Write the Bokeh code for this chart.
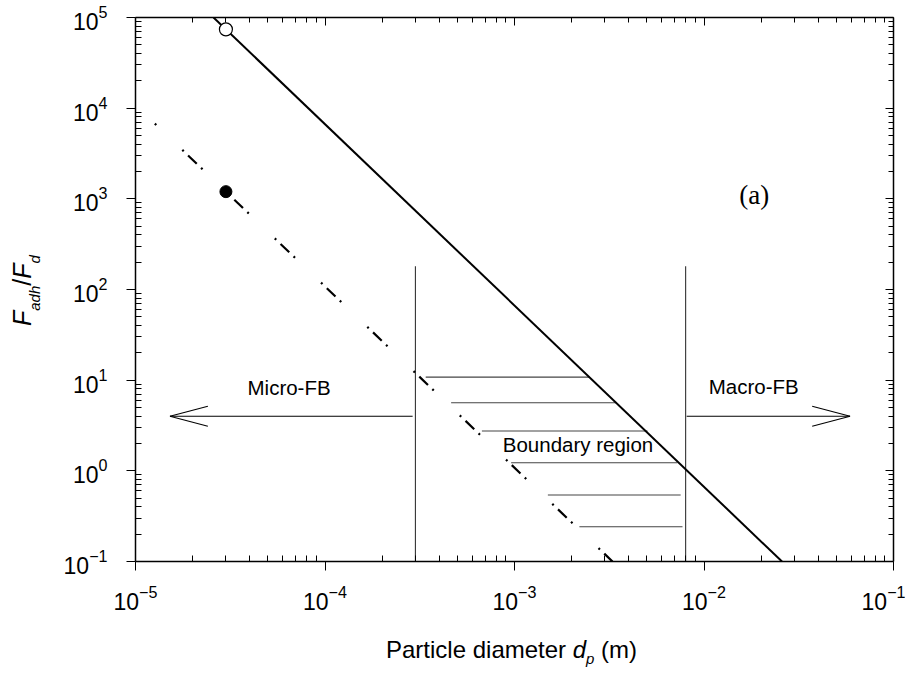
from bokeh.plotting import figure
from bokeh.models import LogAxis, FixedTicker, Range1d, CustomJSTickFormatter, Div
from bokeh.layouts import row, column
from bokeh.core.properties import value
from bokeh.embed import file_html
from bokeh.resources import INLINE

# ---------------- data ----------------
x_ticks = [1e-5, 1e-4, 1e-3, 1e-2, 1e-1]
y_ticks = [1e-1, 1e0, 1e1, 1e2, 1e3, 1e4, 1e5]

# solid line (slope -2 on log-log)
solid_d = [2.58e-5, 2.58e-2]
solid_F = [1.0e5, 1.0e-1]

# dash-dot line (slope -2 on log-log)
dash_d = [1.2e-5, 3.29e-3]
dash_F = [7.5e3, 1.0e-1]

# points
open_pt_d = [3.0e-5]
open_pt_F = [7.4e4]
filled_pt_d = [3.0e-5]
filled_pt_F = [1.2e3]

# vertical region boundaries
bound_d = [3.0e-4, 8.0e-3]
bound_F_low = [1.0e-1, 1.0e-1]
bound_F_high = [180.0, 180.0]

# horizontal lines of the boundary region
hatch_F = [10.8, 5.64, 2.75, 1.23, 0.541, 0.242]
hatch_d0 = [3.4e-4, 4.63e-4, 6.73e-4, 9.6e-4, 1.5e-3, 2.2e-3]
hatch_d1 = [2.48e-3, 3.43e-3, 5.03e-3, 7.24e-3, 7.53e-3, 7.7e-3]

# arrows (tail, tip) at F = arrow_F
arrow_F = 4.0
arrow_tail = [2.9e-4, 8.1e-3]
arrow_tip = [1.52e-5, 5.9e-2]

# annotation texts
note_text = ["Micro-FB", "Macro-FB", "Boundary region"]
note_d = [3.9e-5, 1.06e-2, 8.67e-4]
note_F = [8.2, 8.45, 1.93]
panel_text = ["(a)"]
panel_d = [1.84e-2]
panel_F = [1.1e3]

x_title_html = ('Particle diameter <i>d</i>'
                '<span style="font-size:15px;font-style:italic;vertical-align:-6px">p</span> (m)')
y_title_html = ('<i>F</i><span style="font-size:15px;font-style:italic;vertical-align:-9px">adh</span>'
                '/<i>F</i><span style="font-size:15px;font-style:italic;vertical-align:-9px">d</span>')

FONT = "Liberation Sans"
SERIF = "Liberation Serif"

YDIV_W = 60
P_BOTTOM = 60
p = figure(x_axis_type="log", y_axis_type="log",
           x_range=Range1d(x_ticks[0], x_ticks[-1]),
           y_range=Range1d(y_ticks[0], y_ticks[-1]),
           frame_width=758, frame_height=544,
           min_border_left=133 - YDIV_W, min_border_right=12,
           min_border_top=17, min_border_bottom=P_BOTTOM,
           output_backend="svg", toolbar_location=None,
           background_fill_color="white", border_fill_color="white")
p.grid.visible = False
p.outline_line_color = None

def minors(ticks):
    return [m * t for t in ticks[:-1] for m in range(2, 10)]

xt = FixedTicker(ticks=x_ticks, minor_ticks=minors(x_ticks))
yt = FixedTicker(ticks=y_ticks, minor_ticks=minors(y_ticks))

blank = CustomJSTickFormatter(code="return ' '")
top_ax = LogAxis(ticker=xt, formatter=blank)
right_ax = LogAxis(ticker=yt, formatter=blank)
p.add_layout(top_ax, "above")
p.add_layout(right_ax, "right")
bottom_ax = p.below[0]
left_ax = p.left[0]
bottom_ax.ticker = xt
left_ax.ticker = yt

def style(ax, labels, major_in, major_out, minor_in, standoff=10):
    ax.axis_label = None
    ax.axis_line_color = "black"
    ax.axis_line_width = 1.5
    ax.major_tick_line_color = "black"
    ax.minor_tick_line_color = "black"
    ax.major_tick_line_width = 1
    ax.minor_tick_line_width = 1
    ax.major_tick_in = major_in
    ax.major_tick_out = major_out
    ax.minor_tick_in = minor_in
    ax.minor_tick_out = 0
    if labels:
        ax.major_label_text_font = FONT
        ax.major_label_text_font_size = "23px"
        ax.major_label_text_color = "black"
        ax.major_label_standoff = standoff
    else:
        ax.major_label_text_font_size = "1px"
        ax.major_label_standoff = 0

style(bottom_ax, True, 0, 9, 6, standoff=14)
style(left_ax, True, 0, 9, 6, standoff=19)
style(top_ax, False, 8, 0, 5)
style(right_ax, False, 8, 0, 5)

# ---------------- marks ----------------
p.segment(x0=bound_d, y0=bound_F_low, x1=bound_d, y1=bound_F_high,
          line_color="#333333", line_width=1.1)
p.segment(x0=hatch_d0, y0=hatch_F, x1=hatch_d1, y1=hatch_F,
          line_color="#444444", line_width=1.1)

p.line(solid_d, solid_F, line_color="black", line_width=2)
p.line(dash_d, dash_F, line_color="black", line_width=2.2,
       line_dash="2 6 12 6 2 36", line_dash_offset=20)

p.scatter(open_pt_d, open_pt_F, marker="circle", size=13,
          fill_color="white", line_color="black", line_width=1.2)
p.scatter(filled_pt_d, filled_pt_F, marker="circle", size=12,
          fill_color="black", line_color="black")

# arrows with open heads (head: 0.2 decade long, 0.11 decade half-width)
head_len = 0.2
head_half = 0.11
p.segment(x0=arrow_tail, y0=[arrow_F] * 2, x1=arrow_tip, y1=[arrow_F] * 2,
          line_color="black", line_width=1.1)
hx0, hy0, hx1, hy1 = [], [], [], []
for tail, tip in zip(arrow_tail, arrow_tip):
    sgn = 1 if tail > tip else -1
    back = tip * 10 ** (sgn * head_len)
    for s in (1, -1):
        hx0.append(tip); hy0.append(arrow_F)
        hx1.append(back); hy1.append(arrow_F * 10 ** (s * head_half))
p.segment(x0=hx0, y0=hy0, x1=hx1, y1=hy1, line_color="black", line_width=1.1)

p.text(x=note_d, y=note_F, text=note_text, text_font=value(FONT),
       text_font_size=value("20.5px"), text_baseline="middle",
       text_align="left", text_color="black")
p.text(x=panel_d, y=panel_F, text=panel_text, text_font=value(SERIF),
       text_font_size=value("27px"), text_baseline="middle",
       text_align="center", text_color="black")

# ---------------- axis titles as rich text ----------------
P_H = 17 + 544 + P_BOTTOM
ydiv = Div(width=YDIV_W, height=P_H, margin=0,
           text=('<div style="position:relative;width:%dpx;height:%dpx">'
                 '<span style="position:absolute;left:10px;top:326px;'
                 'transform-origin:0 0;transform:rotate(-90deg);white-space:nowrap;'
                 'font-family:\'Liberation Sans\';font-size:25px;line-height:1;color:black">'
                 '%s</span></div>') % (YDIV_W, P_H, y_title_html))
XDIV_H = 50
xdiv = Div(width=133 + 758 + 12, height=XDIV_H, margin=0,
           text=('<div style="position:relative;width:900px;height:%dpx">'
                 '<span style="position:absolute;left:386px;top:17px;white-space:nowrap;'
                 'font-family:\'Liberation Sans\';font-size:24px;line-height:1;color:black">'
                 '%s</span></div>') % (XDIV_H, x_title_html))

layout = column(row(ydiv, p, spacing=0), xdiv, spacing=0)

open("out.html", "w").write(file_html(layout, INLINE))
